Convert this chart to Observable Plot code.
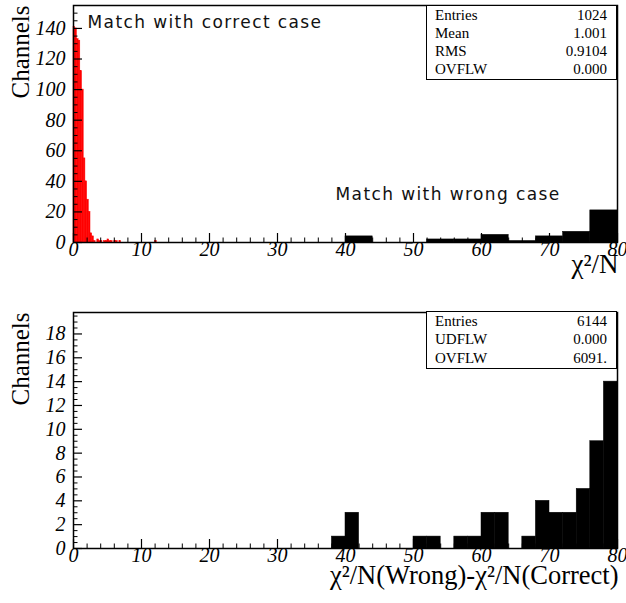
<!DOCTYPE html>
<html>
<head>
<meta charset="utf-8">
<script src="https://cdn.jsdelivr.net/npm/d3@7"></script>
<script src="https://cdn.jsdelivr.net/npm/@observablehq/plot@0.6"></script>
<style>
  body { margin: 0; background: #fff; }
  #wrap { position: relative; width: 626px; height: 603px; overflow: hidden; }
  #wrap svg { display: block; }
  .stat { position: absolute; left: 426px; width: 191px; box-sizing: border-box;
          border: 1.5px solid #000; background: #fff;
          font-family: "Liberation Serif", "Times New Roman", serif; font-size: 15px; color: #000;
          display: flex; flex-direction: column; justify-content: space-around; padding: 0 9px 0 8px; }
  .stat .row { display: flex; justify-content: space-between; }
</style>
</head>
<body>
<div id="wrap"></div>
<script>
// ---------- data ----------
// correct-case χ²/N histogram (red), bin width 0.25
const redBinWidth = 0.25;
const redBinStart = [0, 0.25, 0.5, 0.75, 1.0, 1.25, 1.5, 1.75, 2.0, 2.25, 2.5, 2.75, 3.0, 3.5, 3.75, 4.0, 4.5, 4.75, 5.0, 5.25, 5.5, 6.0, 6.25, 6.75, 12.0];
const redCounts   = [141, 140, 133, 132, 112, 100, 55, 40, 28, 20, 6, 4, 1, 2, 1, 1, 1, 1, 2, 1, 1, 1, 1, 1, 1];

// wrong-case χ²/N histogram (black), bin width 4
const wrongBinWidth = 4;
const wrongBinStart = [40, 52, 56, 60, 64, 68, 72, 76];
const wrongCounts   = [4, 2, 2, 5, 1, 4, 7, 21];

// difference histogram (bottom), bin width 2
const diffBinWidth = 2;
const diffBinStart = [38, 40, 50, 52, 56, 58, 60, 62, 66, 68, 70, 72, 74, 76, 78];
const diffCounts   = [1, 3, 1, 1, 1, 1, 3, 3, 1, 4, 3, 3, 5, 9, 14];

const xTickValues   = [0, 10, 20, 30, 40, 50, 60, 70, 80];
const topYTickValues = [0, 20, 40, 60, 80, 100, 120, 140];
const botYTickValues = [0, 2, 4, 6, 8, 10, 12, 14, 16, 18];

const topStatNames  = ["Entries", "Mean", "RMS", "OVFLW"];
const topStatValues = ["1024", "1.001", "0.9104", "0.000"];
const botStatNames  = ["Entries", "UDFLW", "OVFLW"];
const botStatValues = ["6144", "0.000", "6091."];

const topXLabel = "χ²/N";
const botXLabel = "χ²/N(Wrong)-χ²/N(Correct)";
const yLabel = "Channels";
const noteCorrect = "Match with correct case";
const noteWrong = "Match with wrong case";

// ---------- build tables ----------
const red = redBinStart.map((x0, i) => ({x0, x1: x0 + redBinWidth, n: redCounts[i]}));
const wrong = wrongBinStart.map((x0, i) => ({x0, x1: x0 + wrongBinWidth, n: wrongCounts[i]}));
const diff = diffBinStart.map((x0, i) => ({x0, x1: x0 + diffBinWidth, n: diffCounts[i]}));

const xMinor = d3.range(0, 80.001, 2).filter(v => v % 10 !== 0);
const topYMinor = d3.range(0, 155, 5).filter(v => v % 20 !== 0);
const botYMinor = d3.range(0, 19.8, 0.5).filter(v => v % 2 !== 0);

const W = 626, ML = 73, MR = 9;
const innerW = W - ML - MR;
const serif = "Liberation Serif";

function axisMarks(innerH, yMajor, yMinor) {
  return [
    Plot.tickX(xMinor, {x: d => d, insetTop: innerH - 4.5, stroke: "black", strokeWidth: 1}),
    Plot.tickX(xTickValues, {x: d => d, insetTop: innerH - 9, stroke: "black", strokeWidth: 1.2}),
    Plot.tickY(yMinor, {y: d => d, insetRight: innerW - 4.5, stroke: "black", strokeWidth: 1}),
    Plot.tickY(yMajor, {y: d => d, insetRight: innerW - 9, stroke: "black", strokeWidth: 1.2}),
    Plot.text(xTickValues, {x: d => d, text: d => String(d), frameAnchor: "bottom", dy: 13,
      fontFamily: serif, fontStyle: "italic", fontSize: 20, fill: "black"}),
    Plot.text(yMajor, {y: d => d, text: d => String(d), frameAnchor: "left", dx: -8, textAnchor: "end",
      fontFamily: serif, fontStyle: "italic", fontSize: 20, fill: "black"}),
    Plot.text([yLabel], {text: d => d, frameAnchor: "top-left", dx: -53, rotate: -90,
      textAnchor: "end", lineAnchor: "middle", fontFamily: serif, fontSize: 25, fill: "black"}),
    Plot.frame({stroke: "black", strokeWidth: 1.5})
  ];
}

const topH = 300, topMT = 5, topMB = 58;
const topPlot = Plot.plot({
  width: W, height: topH, marginLeft: ML, marginRight: MR, marginTop: topMT, marginBottom: topMB,
  x: {domain: [0, 80], axis: null},
  y: {domain: [0, 155], axis: null},
  style: {background: "white", overflow: "visible"},
  marks: [
    Plot.rect(red, {x1: "x0", x2: "x1", y1: 0, y2: "n", fill: "red", stroke: "red", strokeWidth: 0.5}),
    Plot.rect(wrong, {x1: "x0", x2: "x1", y1: 0, y2: "n", fill: "black", stroke: "black", strokeWidth: 0.5}),
    ...axisMarks(topH - topMT - topMB, topYTickValues, topYMinor),
    Plot.text([noteCorrect], {text: d => d, frameAnchor: "top-left", dx: 14, dy: 10, textAnchor: "start",
      fontFamily: "DejaVu Sans", fontSize: 17, fill: "#111"}),
    Plot.text([noteWrong], {text: d => d, frameAnchor: "top-left", dx: 262, dy: 182, textAnchor: "start",
      fontFamily: "DejaVu Sans", fontSize: 17, fill: "#111"}),
    Plot.text([topXLabel], {text: d => d, frameAnchor: "bottom-right", dx: 1, dy: 30, textAnchor: "end",
      fontFamily: serif, fontSize: 27, fill: "black"})
  ]
});

const botH = 303, botMT = 12, botMB = 55;
const botPlot = Plot.plot({
  width: W, height: botH, marginLeft: ML, marginRight: MR, marginTop: botMT, marginBottom: botMB,
  x: {domain: [0, 80], axis: null},
  y: {domain: [0, 19.8], axis: null},
  style: {background: "white", overflow: "visible"},
  marks: [
    Plot.rect(diff, {x1: "x0", x2: "x1", y1: 0, y2: "n", fill: "black", stroke: "black", strokeWidth: 0.5}),
    ...axisMarks(botH - botMT - botMB, botYTickValues, botYMinor),
    Plot.text([botXLabel], {text: d => d, frameAnchor: "bottom-right", dx: 1, dy: 35, textAnchor: "end",
      fontFamily: serif, fontSize: 26.5, fill: "black"})
  ]
});

const wrap = document.getElementById("wrap");
wrap.appendChild(topPlot);
wrap.appendChild(botPlot);

// force italic serif on numeric tick labels; letter spacing for the annotation notes
[topPlot, botPlot].forEach(svg => {
  svg.querySelectorAll("text").forEach(t => {
    if (/^\d+$/.test(t.textContent.trim())) {
      t.style.fontFamily = '"Liberation Serif", serif';
      t.style.fontStyle = "italic";
      t.style.fontSize = "20px";
    }
  });
});
topPlot.querySelectorAll("text").forEach(t => {
  if (t.textContent.startsWith("Match")) t.style.letterSpacing = "1.4px";
});

function statBox(names, values, top, height) {
  const box = document.createElement("div");
  box.className = "stat";
  box.style.top = top + "px";
  box.style.height = height + "px";
  names.forEach((nm, i) => {
    const r = document.createElement("div");
    r.className = "row";
    const a = document.createElement("span"); a.textContent = nm;
    const b = document.createElement("span"); b.textContent = values[i];
    r.appendChild(a); r.appendChild(b);
    box.appendChild(r);
  });
  wrap.appendChild(box);
}
statBox(topStatNames, topStatValues, 5, 75);
statBox(botStatNames, botStatValues, 311, 58);
</script>
</body>
</html>
